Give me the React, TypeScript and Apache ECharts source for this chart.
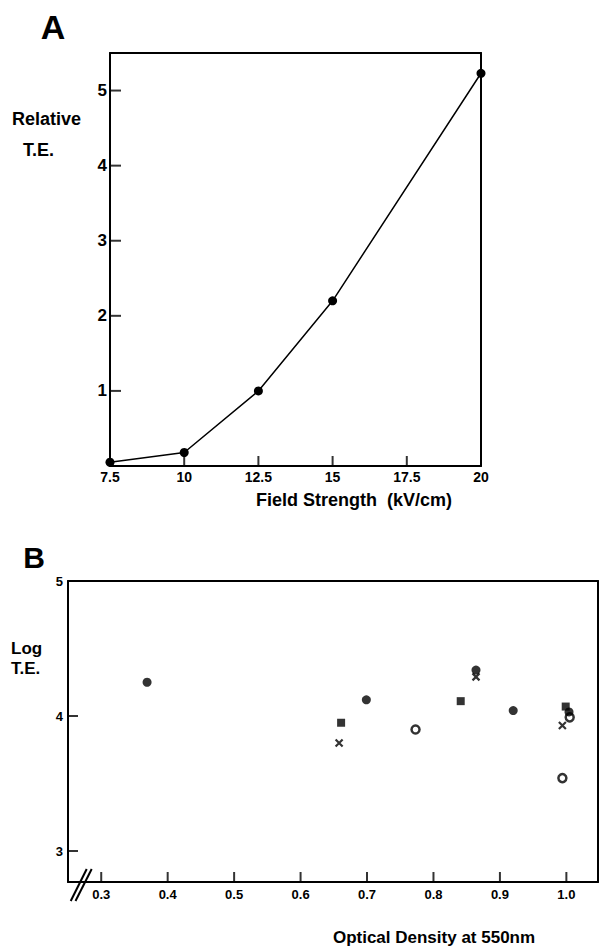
import React, { useEffect, useRef } from "react";
import * as echarts from "echarts";

// Panel A data
const fieldStrength = [7.5, 10, 12.5, 15, 20];
const relativeTE = [0.05, 0.18, 1.0, 2.2, 5.23];
const xTicksA = [7.5, 10, 12.5, 15, 17.5, 20];
const yTicksA = [1, 2, 3, 4, 5];

// Panel B data: [optical density, log T.E.]
const filledCircles = [
  [0.369, 4.25],
  [0.699, 4.12],
  [0.864, 4.34],
  [0.92, 4.04],
  [1.004, 4.03],
];
const filledSquares = [
  [0.661, 3.95],
  [0.841, 4.11],
  [0.999, 4.07],
];
const crosses = [
  [0.658, 3.8],
  [0.864, 4.29],
  [0.994, 3.93],
];
const openCircles = [
  [0.773, 3.9],
  [1.005, 3.99],
  [0.994, 3.54],
];
const xTicksB = [0.3, 0.4, 0.5, 0.6, 0.7, 0.8, 0.9, 1.0];
const yTicksB = [3, 4, 5];

const FONT = "Liberation Sans, Arial, sans-serif";

const inList = (list: number[], v: number) => list.some((t) => Math.abs(t - v) < 1e-6);

function lineLS() {
  return { color: "#000", width: 2 };
}

export default function App() {
  const ref = useRef<HTMLDivElement>(null);
  useEffect(() => {
    if (!ref.current) return;
    const chart = echarts.init(ref.current, null, { renderer: "svg" });
    const txt = (text: string, x: number, y: number, size: number, align = "center") => ({
      type: "text",
      x,
      y,
      style: {
        text,
        fill: "#000",
        font: `bold ${size}px ${FONT}`,
        textAlign: align,
        textVerticalAlign: "middle",
      },
    });
    const borderAxis = (gridIndex: number, position: string, min: number, max: number) => ({
      type: "value", gridIndex, position, min, max,
      axisLine: { show: true, onZero: false, lineStyle: lineLS() },
      axisTick: { show: false },
      axisLabel: { show: false },
      splitLine: { show: false },
    });
    // inward tick marks drawn through the axes' own scales
    const tickSeries = (axisIdx: number, data: number[][], size: number[], offset: number[]) => ({
      type: "scatter", xAxisIndex: axisIdx, yAxisIndex: axisIdx, data,
      symbol: "rect", symbolSize: size, symbolOffset: offset,
      itemStyle: { color: "#000" }, silent: true, clip: false, z: 3,
    });
    const yMinB = 5 - 301 / 135;
    const xMinB = 0.25;
    const xMaxB = 0.25 + 532 / 667;
    chart.setOption({
      animation: false,
      grid: [
        { left: 110, top: 53, width: 371, height: 413 },
        { left: 68, top: 581, width: 532, height: 301 },
      ],
      xAxis: [
        {
          type: "value", gridIndex: 0, min: 7.5, max: 20, interval: 2.5,
          axisLine: { show: true, onZero: false, lineStyle: lineLS() },
          splitLine: { show: false },
          axisTick: { show: false },
          axisLabel: { fontSize: 14, color: "#000", fontWeight: "bold", fontFamily: FONT, margin: 4 },
        },
        {
          type: "value", gridIndex: 1, min: xMinB, max: xMaxB,
          minInterval: 0.1, maxInterval: 0.1, splitNumber: 8,
          axisLine: { show: true, onZero: false, lineStyle: lineLS() },
          splitLine: { show: false },
          axisTick: { show: false },
          axisLabel: {
            fontSize: 13, color: "#000", fontWeight: "bold", fontFamily: FONT, margin: 6,
            formatter: (v: number) => (inList(xTicksB, v) ? v.toFixed(1) : ""),
          },
        },
        borderAxis(0, "top", 7.5, 20),
        borderAxis(1, "top", xMinB, xMaxB),
      ],
      yAxis: [
        {
          type: "value", gridIndex: 0, min: 0, max: 5.5, interval: 1,
          axisLine: { show: true, onZero: false, lineStyle: lineLS() },
          splitLine: { show: false },
          axisTick: { show: false },
          axisLabel: {
            fontSize: 17, color: "#000", fontWeight: "bold", fontFamily: FONT, margin: 3,
            formatter: (v: number) => (inList(yTicksA, v) ? String(v) : ""),
          },
        },
        {
          type: "value", gridIndex: 1, min: yMinB, max: 5,
          minInterval: 1, maxInterval: 1,
          axisLine: { show: true, onZero: false, lineStyle: lineLS() },
          splitLine: { show: false },
          axisTick: { show: false },
          axisLabel: {
            fontSize: 13, color: "#000", fontWeight: "bold", fontFamily: FONT, margin: 5,
            formatter: (v: number) => (inList(yTicksB, v) ? String(v) : ""),
          },
        },
        borderAxis(0, "right", 0, 5.5),
        borderAxis(1, "right", yMinB, 5),
      ],
      series: [
        {
          type: "line", xAxisIndex: 0, yAxisIndex: 0,
          data: fieldStrength.map((x, i) => [x, relativeTE[i]]),
          symbol: "circle", symbolSize: 9, showSymbol: true,
          lineStyle: { color: "#000", width: 1.5 },
          itemStyle: { color: "#000" },
        },
        tickSeries(0, xTicksA.map((v) => [v, 0]), [2, 10], [0, -5]),
        tickSeries(0, yTicksA.map((v) => [7.5, v]), [11, 2], [5.5, 0]),
        tickSeries(1, xTicksB.map((v) => [v, yMinB]), [2, 10], [0, -5]),
        tickSeries(1, yTicksB.filter((v) => v < 5).map((v) => [xMinB, v]), [10, 2], [5, 0]),
        {
          type: "scatter", xAxisIndex: 1, yAxisIndex: 1, data: openCircles,
          symbol: "circle", symbolSize: 8,
          itemStyle: { color: "#fff", borderColor: "#000", borderWidth: 2.5 },
        },
        {
          type: "scatter", xAxisIndex: 1, yAxisIndex: 1, data: filledCircles,
          symbol: "circle", symbolSize: 9,
          itemStyle: { color: "#000" },
        },
        {
          type: "scatter", xAxisIndex: 1, yAxisIndex: 1, data: filledSquares,
          symbol: "rect", symbolSize: 8,
          itemStyle: { color: "#000" },
        },
        {
          type: "scatter", xAxisIndex: 1, yAxisIndex: 1, data: crosses,
          symbol: "path://M0,0L10,10M10,0L0,10", symbolSize: 7,
          itemStyle: { color: "none", borderColor: "#000", borderWidth: 2.2 },
        },
      ],
      graphic: [
        txt("A", 53, 27, 34),
        txt("B", 34, 557, 30),
        txt("Relative", 12, 119, 18, "left"),
        txt("T.E.", 23, 150, 18, "left"),
        txt("Field Strength  (kV/cm)", 354, 500, 18),
        txt("Log", 11, 648, 17, "left"),
        txt("T.E.", 11, 668, 17, "left"),
        txt("Optical Density at 550nm", 434, 937, 17),
        { type: "line", shape: { x1: 70.7, y1: 901, x2: 86.7, y2: 869 }, style: { stroke: "#000", lineWidth: 2 } },
        { type: "line", shape: { x1: 75.5, y1: 901, x2: 91.7, y2: 869 }, style: { stroke: "#000", lineWidth: 2 } },
      ],
    });
    return () => chart.dispose();
  }, []);
  return (
    <div
      ref={ref}
      style={{ position: "fixed", left: 0, top: 0, width: 601, height: 952, background: "#fff" }}
    />
  );
}
